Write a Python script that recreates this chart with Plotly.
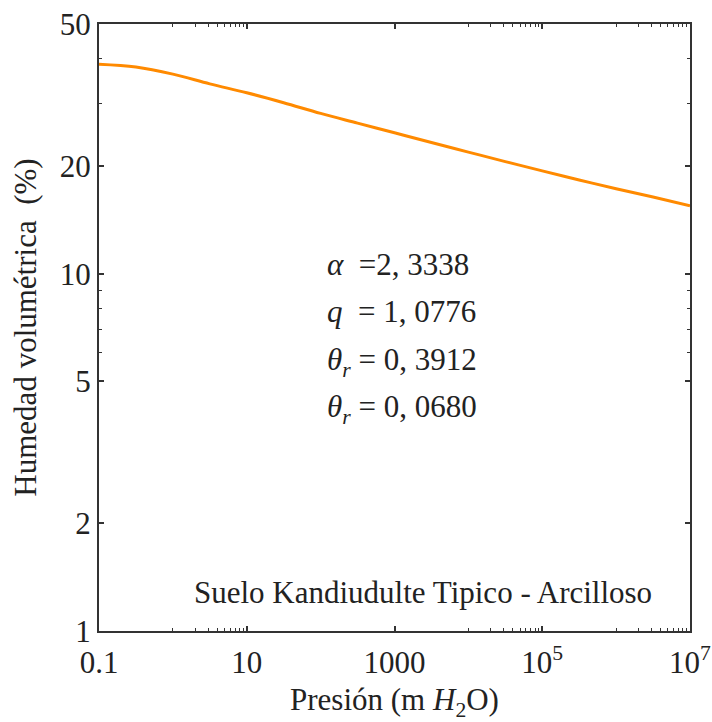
import plotly.graph_objects as go

# Retention curve: pressure head (m H2O) vs volumetric water content (%)
presion = [0.1, 0.316, 1, 3.16, 10, 31.6, 100, 316, 1000, 3162,
           1e4, 3.16e4, 1e5, 3.16e5, 1e6, 3.16e6, 1e7]
humedad = [38.6, 37.9, 36.2, 34.0, 32.1, 30.1, 28.1, 26.4, 24.8, 23.3,
           21.9, 20.6, 19.4, 18.3, 17.3, 16.4, 15.5]

# Axis ticks
x_tickvals = [0.1, 10, 1000, 1e5, 1e7]
x_ticktext = ["0.1", "10", "1000", "10<sup>5</sup>", "10<sup>7</sup>"]
x_minor = [1, 2, 3, 4, 5, 6, 7, 8, 9,
           1e4, 2e4, 3e4, 4e4, 5e4, 6e4, 7e4, 8e4, 9e4,
           1e6, 2e6, 3e6, 4e6, 5e6, 6e6, 7e6, 8e6, 9e6]
y_tickvals = [1, 2, 5, 10, 20, 50]
y_ticktext = ["1", "2", "5", "10", "20", "50"]
y_minor = [6, 7, 8, 9, 30, 40]

# Fitted parameters shown on the chart
parametros = [
    "<i>α</i>  =2, 3338",
    "<i>q</i>  = 1, 0776",
    "<i>θ<sub>r</sub></i> = 0, 3912",
    "<i>θ<sub>r</sub></i> = 0, 0680",
]
param_y = [0.603, 0.526, 0.443, 0.366]
etiqueta_suelo = "Suelo Kandiudulte Tipico - Arcilloso"

FONT = "Liberation Serif, Times New Roman, serif"
TXT = "#222222"
AXC = "#333333"
FS = 31

fig = go.Figure()
fig.add_trace(go.Scatter(
    x=presion, y=humedad, mode="lines",
    line=dict(color="#FF8A00", width=3, shape="spline"),
    showlegend=False, hoverinfo="skip",
))

axis_common = dict(
    type="log", showgrid=False, zeroline=False, automargin=False,
    showline=True, linecolor=AXC, linewidth=2, mirror="ticks",
    ticks="inside", ticklen=5, tickwidth=1.5, tickcolor=AXC,
    tickfont=dict(family=FONT, size=FS, color=TXT),
)

fig.update_xaxes(
    **axis_common,
    range=[-1, 7],
    tickmode="array", tickvals=x_tickvals, ticktext=x_ticktext,
    ticklabelstandoff=3,
    minor=dict(tickmode="array", tickvals=x_minor, ticks="inside",
               ticklen=3, tickwidth=1, tickcolor=AXC),
    title=dict(text="Presión (m <i>H</i><sub>2</sub>O)",
               font=dict(family=FONT, size=FS, color=TXT), standoff=14),
)
fig.update_yaxes(
    **axis_common,
    range=[0, 1.69897],
    tickmode="array", tickvals=y_tickvals, ticktext=y_ticktext,
    minor=dict(tickmode="array", tickvals=y_minor, ticks="inside",
               ticklen=3, tickwidth=1, tickcolor=AXC),
    title=dict(text="Humedad volumétrica  (%)",
               font=dict(family=FONT, size=FS, color=TXT), standoff=14),
)

for texto, yy in zip(parametros, param_y):
    fig.add_annotation(
        text=texto, xref="paper", yref="paper", x=0.382, y=yy,
        xanchor="left", yanchor="middle", showarrow=False,
        font=dict(family=FONT, size=FS, color=TXT),
    )

fig.add_annotation(
    text=etiqueta_suelo, xref="paper", yref="paper", x=0.548, y=0.063,
    xanchor="center", yanchor="middle", showarrow=False,
    font=dict(family=FONT, size=FS, color=TXT),
)

fig.update_layout(
    width=712, height=722,
    margin=dict(l=99, r=22, t=24, b=91),
    paper_bgcolor="white", plot_bgcolor="white",
)

fig.write_html("out.html")
